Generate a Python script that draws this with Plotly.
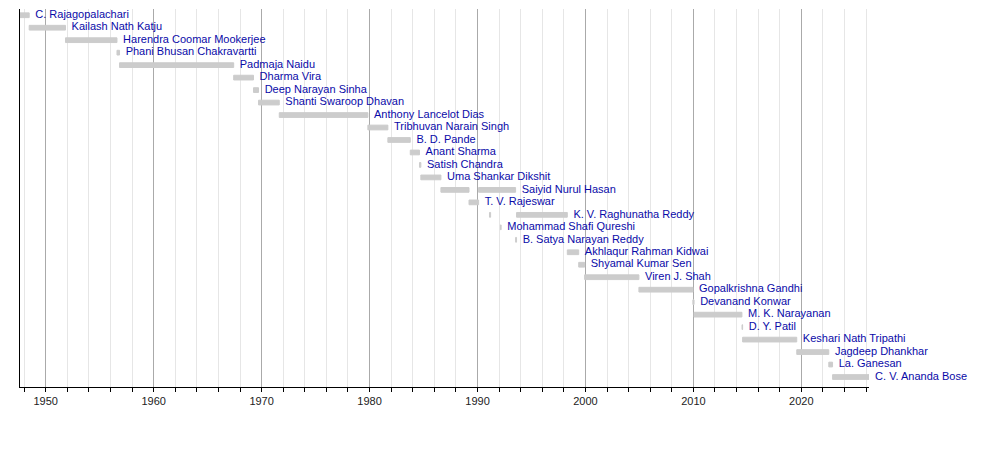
import plotly.graph_objects as go
import pandas as pd

# governors, one row each (top to bottom)
names = [
    "C. Rajagopalachari", "Kailash Nath Katju", "Harendra Coomar Mookerjee",
    "Phani Bhusan Chakravartti", "Padmaja Naidu", "Dharma Vira",
    "Deep Narayan Sinha", "Shanti Swaroop Dhavan", "Anthony Lancelot Dias",
    "Tribhuvan Narain Singh", "B. D. Pande", "Anant Sharma", "Satish Chandra",
    "Uma Shankar Dikshit", "Saiyid Nurul Hasan", "T. V. Rajeswar",
    "K. V. Raghunatha Reddy", "Mohammad Shafi Qureshi", "B. Satya Narayan Reddy",
    "Akhlaqur Rahman Kidwai", "Shyamal Kumar Sen", "Viren J. Shah",
    "Gopalkrishna Gandhi", "Devanand Konwar", "M. K. Narayanan", "D. Y. Patil",
    "Keshari Nath Tripathi", "Jagdeep Dhankhar", "La. Ganesan", "C. V. Ananda Bose",
]

# terms: row index, start, end (some governors served twice)
term_row = [0, 1, 2, 3, 4, 5, 6, 7, 8, 9, 10, 11, 12, 13, 14, 14, 15, 16, 16,
            17, 18, 19, 20, 21, 22, 23, 24, 25, 26, 27, 28, 29]
term_start = [
    "1947-08-15", "1948-06-21", "1951-11-01", "1956-08-08", "1956-11-03",
    "1967-06-01", "1969-04-01", "1969-09-19", "1971-08-21", "1979-11-06",
    "1981-09-12", "1983-10-10", "1984-08-16", "1984-10-01", "1986-08-12",
    "1990-02-07", "1989-03-20", "1991-02-10", "1993-08-14", "1992-02-15",
    "1993-07-13", "1998-04-27", "1999-05-18", "1999-12-04", "2004-12-14",
    "2009-12-14", "2010-01-24", "2014-07-03", "2014-07-24", "2019-07-30",
    "2022-07-18", "2022-11-23",
]
term_end = [
    "1948-06-21", "1951-11-01", "1956-08-08", "1956-11-03", "1967-06-01",
    "1969-04-01", "1969-09-19", "1971-08-21", "1979-11-06", "1981-09-12",
    "1983-10-10", "1984-08-16", "1984-10-01", "1986-08-12", "1989-03-20",
    "1993-07-12", "1990-02-07", "1991-03-20", "1998-04-27", "1992-03-10",
    "1993-08-14", "1999-05-18", "1999-12-04", "2004-12-14", "2009-12-14",
    "2010-01-23", "2014-06-30", "2014-07-24", "2019-07-29", "2022-07-17",
    "2022-11-22", "2026-04-08",
]

axis_start = "1947-08-15"
axis_end = "2026-04-08"

starts = pd.to_datetime(term_start)
ends = pd.to_datetime(term_end)
dur_ms = [(e - s).total_seconds() * 1000 for s, e in zip(starts, ends)]

fig = go.Figure()
fig.add_trace(go.Bar(
    orientation="h", y=term_row, x=dur_ms, base=term_start,
    marker=dict(color="#cccccc", line=dict(color="#cccccc", width=1)),
    width=0.38, hoverinfo="skip",
))

# label after the last term of each row
last_end = {}
for r, e in zip(term_row, term_end):
    if r not in last_end or e > last_end[r]:
        last_end[r] = e
fig.add_trace(go.Scatter(
    x=[last_end[i] for i in range(len(names))], y=list(range(len(names))),
    mode="text", text=["\u00a0\u00a0" + n for n in names],
    textposition="middle right", cliponaxis=False,
    textfont=dict(family="Liberation Sans, Arial", size=11, color="#0a0aa8"),
    hoverinfo="skip",
))

# page body has an 8px margin, so the figure is sized to fit inside it
fig.update_layout(
    width=992, height=449, showlegend=False,
    margin=dict(l=12, r=131, t=1, b=70),
    plot_bgcolor="white", paper_bgcolor="white",
    font=dict(family="Liberation Sans, Arial", size=11, color="#222222"),
)
fig.update_xaxes(
    type="date", range=[axis_start, axis_end], automargin=False,
    tick0="1950-01-01", dtick="M120", tickformat="%Y",
    ticks="outside", ticklen=4, tickcolor="black",
    showgrid=True, gridcolor="#aaaaaa", gridwidth=1,
    showline=True, linecolor="black", linewidth=1, zeroline=False,
    minor=dict(tick0="1948-01-01", dtick="M24", ticks="outside", ticklen=4,
               tickcolor="black", showgrid=True, gridcolor="#e6e6e6"),
)
fig.update_yaxes(
    range=[29.8, -0.5], showticklabels=False, ticks="", showgrid=False,
    zeroline=False, showline=True, linecolor="black", linewidth=1,
    automargin=False,
)
fig.write_html("out.html")
